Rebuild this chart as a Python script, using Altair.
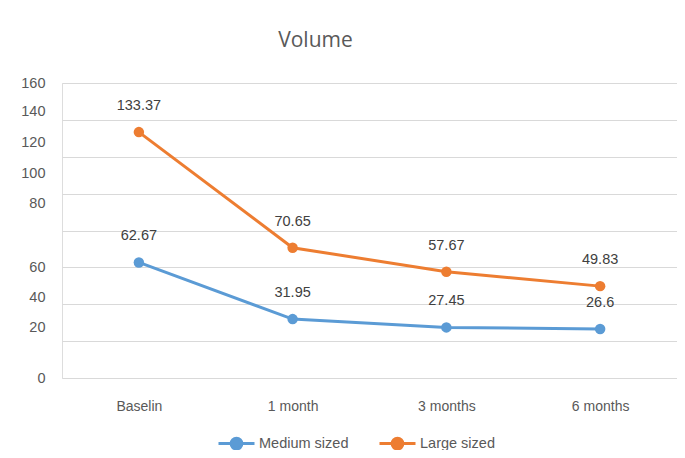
import altair as alt
import pandas as pd

categories = ["Baselin", "1 month", "3 months", "6 months"]
medium = [62.67, 31.95, 27.45, 26.6]
large = [133.37, 70.65, 57.67, 49.83]
series_names = ["Medium sized", "Large sized"]
colors = ["#5B9BD5", "#ED7D31"]
y_ticks = [0, 20, 40, 60, 80, 100, 120, 140, 160]
# label displacement seen in the reference (pixels, per tick value)
y_label_shift = {160: 0, 140: -8, 120: -14, 100: -20, 80: -27, 60: 0, 40: -7, 20: -14, 0: 0}

rows = []
for i, c in enumerate(categories):
    rows.append({"cat": c, "series": series_names[0], "v": medium[i], "o": i})
    rows.append({"cat": c, "series": series_names[1], "v": large[i], "o": i})
df = pd.DataFrame(rows)

shift_expr = "".join(f"datum.value == {k} ? {v} : " for k, v in y_label_shift.items()) + "0"

FONT = "Liberation Sans"

x = alt.X("cat:N", sort=categories, title=None,
          scale=alt.Scale(paddingInner=0, paddingOuter=0),
          axis=alt.Axis(labelAngle=0, domain=False, ticks=False, labelFontSize=14,
                        labelColor="#595959", labelFont=FONT, labelPadding=21))
y = alt.Y("v:Q", title=None, scale=alt.Scale(domain=[0, 160], nice=False),
          axis=alt.Axis(values=y_ticks, domain=False, ticks=False, labelFontSize=14.5,
                        labelColor="#595959", labelFont=FONT, labelPadding=17,
                        gridColor="#D9D9D9", gridWidth=1,
                        labelOffset={"expr": shift_expr}))
color = alt.Color("series:N", sort=series_names,
                  scale=alt.Scale(domain=series_names, range=colors),
                  legend=alt.Legend(title=None, orient="none", direction="horizontal",
                                    legendX=155, legendY=341,
                                    symbolType="M -1 0 L 1 0 M 0.3 0 A 0.3 0.3 0 1 1 -0.3 0 A 0.3 0.3 0 1 1 0.3 0",
                                    symbolSize=1296, symbolStrokeWidth=3,
                                    labelFontSize=14.5, labelColor="#595959", labelFont=FONT,
                                    columnPadding=24, labelOffset=3))

base = alt.Chart(df)
lines = base.mark_line(strokeWidth=3).encode(x=x, y=y, color=color, order="o:Q")
points = base.mark_circle(size=110, opacity=1).encode(
    x=x, y=y,
    color=alt.Color("series:N", sort=series_names,
                    scale=alt.Scale(domain=series_names, range=colors), legend=None))
labels = base.mark_text(dy=-26, fontSize=14.5, color="#404040", font=FONT).encode(
    x=x, y=y, text=alt.Text("v:Q"))

chart = alt.layer(lines, points, labels).properties(
    width=615, height=295,
    title=alt.TitleParams("Volume", fontSize=21, font="Open Sans", fontWeight="normal",
                          color="#595959", anchor="middle", dx=-54, offset=24),
    autosize=alt.AutoSizeParams(type="none"),
    padding={"left": 54, "top": 75, "right": 0, "bottom": 72},
).configure_view(stroke=None).configure(background="white")

chart.save("out.html", embed_options={"renderer": "svg", "actions": False})
